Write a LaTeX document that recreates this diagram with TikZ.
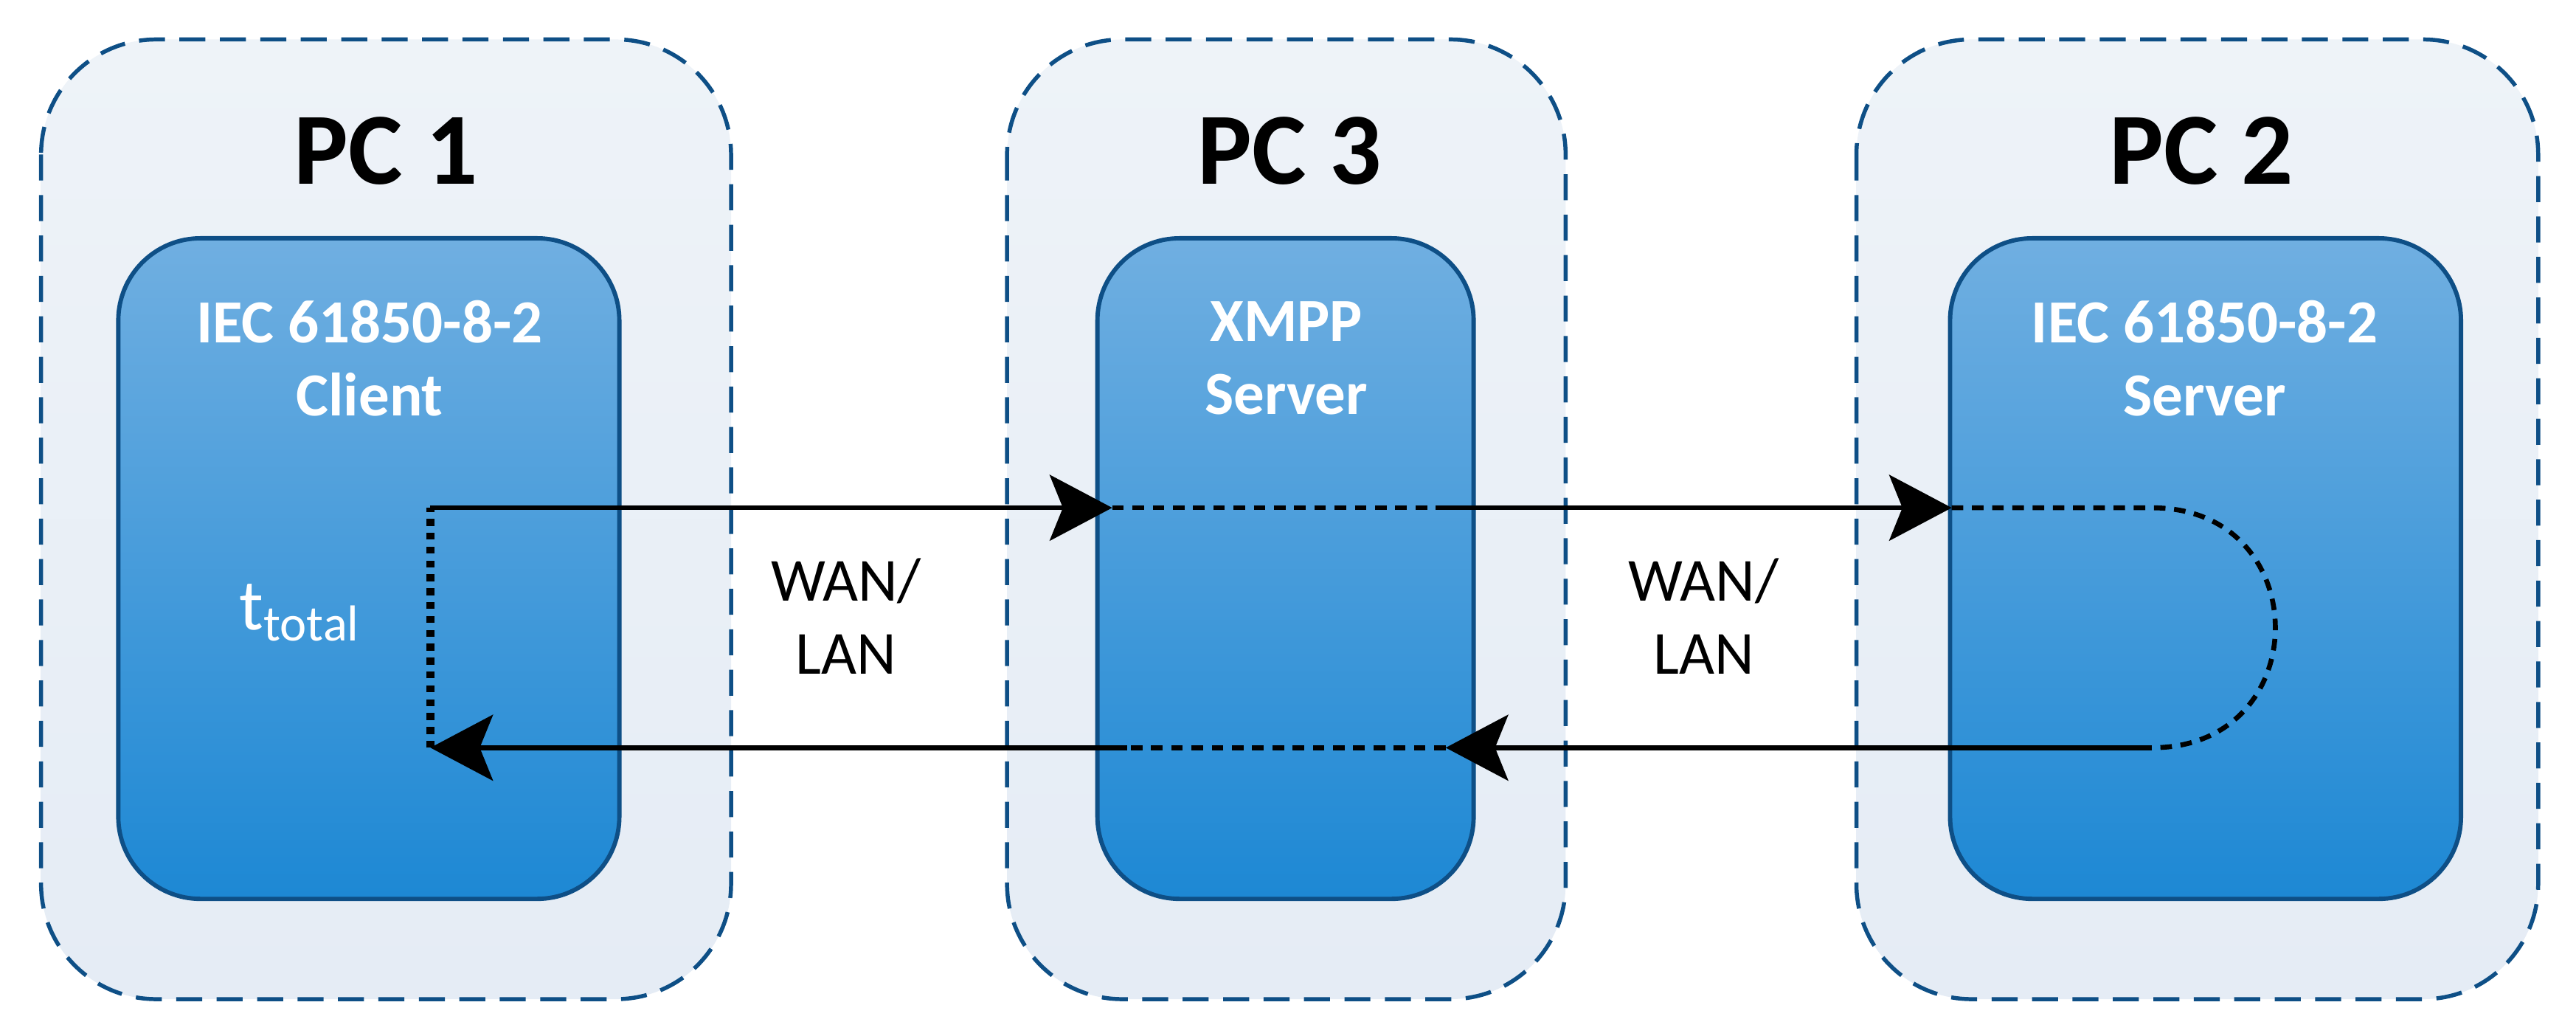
\documentclass[tikz,border=0pt]{standalone}
\usepackage{fontspec}
\setmainfont{Carlito}
\usetikzlibrary{arrows.meta}
\definecolor{bord}{HTML}{0E4F86}
\definecolor{otop}{HTML}{EEF3F8}
\definecolor{obot}{HTML}{E5ECF5}
\definecolor{itop}{HTML}{70AFE1}
\definecolor{ibot}{HTML}{1D88D4}
\begin{document}
\begin{tikzpicture}[x=0.01cm,y=-0.01cm,
  outer/.style={draw=bord,line width=0.7pt,dash pattern=on 4.5pt off 2.5pt,rounded corners=0.7cm,top color=otop,bottom color=obot},
  inner/.style={draw=bord,line width=0.75pt,rounded corners=0.5cm,top color=itop,bottom color=ibot},
  pc/.style={font=\fontsize{17.7}{20}\selectfont\bfseries,text=black},
  lbl/.style={font=\fontsize{10.6}{12.7}\selectfont\bfseries,text=white,align=center},
  wan/.style={font=\fontsize{10.6}{12.7}\selectfont,text=black,align=center},
  ln/.style={line width=0.85pt},
  dsh/.style={line width=0.85pt,dash pattern=on 2pt off 1.5pt},
  tip/.style={-{Stealth[length=0.38cm,width=0.4cm,inset=0.08cm]}}]
\useasboundingbox (0,0) rectangle (1568,630);
% outer boxes
\path[outer] (25,24) rectangle (445,608);
\path[outer] (613,24) rectangle (953,608);
\path[outer] (1130,24) rectangle (1545,608);
\node[pc] (pc1) at (235,92) {PC 1};
\node[pc] (pc3) at (785,92) {PC 3};
\node[pc] (pc2) at (1340,92) {PC 2};
% inner boxes
\path[inner] (72,145) rectangle (377,547);
\path[inner] (668,145) rectangle (897,547);
\path[inner] (1187,145) rectangle (1498,547);
\node[lbl] (c1) at (225,218) {IEC 61850-8-2\\Client};
\node[lbl] (c3) at (783,218) {XMPP\\Server};
\node[lbl] (c2) at (1342,218) {IEC 61850-8-2\\Server};
\node[font=\fontsize{12.5}{14}\selectfont,text=white] (tt) at (183,373) {t\textsubscript{total}};
\node[wan] (w1) at (515,375) {WAN/\\LAN};
\node[wan] (w2) at (1037,375) {WAN/\\LAN};
% coordinates
\coordinate (a) at (262,309);
\coordinate (b) at (677,309);
\coordinate (b2) at (877,309);
\coordinate (c) at (1188,309);
\coordinate (d) at (1310,309);
\coordinate (e) at (1310,455);
\coordinate (f) at (880,455);
\coordinate (f2) at (686,455);
\coordinate (g) at (262,455);
\draw[ln,tip] (a) -- (b);
\draw[dsh] (b) -- (b2);
\draw[ln,tip] (b2) -- (c);
\draw[dsh] (c) -- (d) .. controls (1410,309) and (1410,455) .. (e);
\draw[ln,tip] (e) -- (f);
\draw[dsh] (f) -- (f2);
\draw[ln,tip] (f2) -- (g);
\draw[line width=1.3pt,dash pattern=on 1.2pt off 1.2pt] (g) -- (a);
\end{tikzpicture}
\end{document}
